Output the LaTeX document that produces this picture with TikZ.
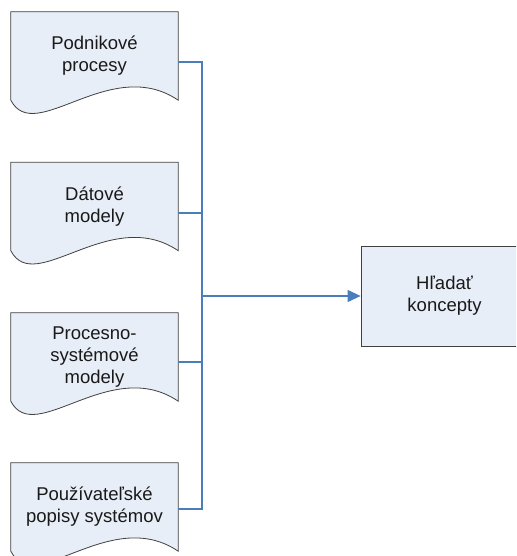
\documentclass[tikz,border=0pt]{standalone}
\usepackage{fontspec}
\setmainfont{Liberation Sans}
\usetikzlibrary{backgrounds,calc,arrows.meta}
\definecolor{shapefill}{RGB}{232,238,247}
\definecolor{shapeline}{RGB}{64,64,64}
\definecolor{linkblue}{RGB}{74,126,187}
\tikzset{
  txt/.style={font=\fontsize{18.5}{22}\selectfont, text=black!90, align=center, inner sep=0pt},
  docpart/.style={txt, minimum width=167pt, minimum height=88pt},
  procbox/.style={txt, draw=shapeline, fill=shapefill, line width=0.8pt, minimum width=167pt, minimum height=100pt},
  docline/.style={draw=shapeline, fill=shapefill, line width=0.8pt},
  link/.style={draw=linkblue, line width=1.1pt},
  arrowlink/.style={link, -{Triangle[length=13pt,width=12pt]}}
}
% a document sheet: straight top and sides, wavy lower edge
\newcommand\wavedoc[1]{%
  \path[docline] (#1.north west) -- (#1.north east) -- (#1.south east)
    .. controls +(-68,-46) and +(24,46) .. (#1.south west) -- cycle;}
\begin{document}
\begin{tikzpicture}[x=1pt,y=-1pt]
\useasboundingbox (0,0) rectangle (516,556);
\clip (0,0) rectangle (516,556);

\node[docpart] (d1) at (94.5,56) {Podnikové\\procesy};
\node[docpart] (d2) at (94.5,206.5) {Dátové\\modely};
\node[docpart] (d3) at (94.5,357) {Procesno-\\systémové\\modely};
\node[docpart] (d4) at (94.5,507) {Používateľské\\popisy systémov};

\begin{scope}[on background layer]
  \wavedoc{d1}
  \wavedoc{d2}
  \wavedoc{d3}
  \wavedoc{d4}
\end{scope}

\node[procbox] (hk) at (444.5,296) {Hľadať\\koncepty};

% junctions on the collecting bus
\coordinate (b1) at (202,62);
\coordinate (b2) at (202,213);
\coordinate (b3) at (202,362);
\coordinate (b4) at (202,509);
\coordinate (bm) at (202,296);

\draw[link] (d1.east |- b1) -- (b1) -- (b4) -- (d4.east |- b4);
\draw[link] (d2.east |- b2) -- (b2);
\draw[link] (d3.east |- b3) -- (b3);
\draw[arrowlink] (bm) -- (hk.west);
\end{tikzpicture}
\end{document}
